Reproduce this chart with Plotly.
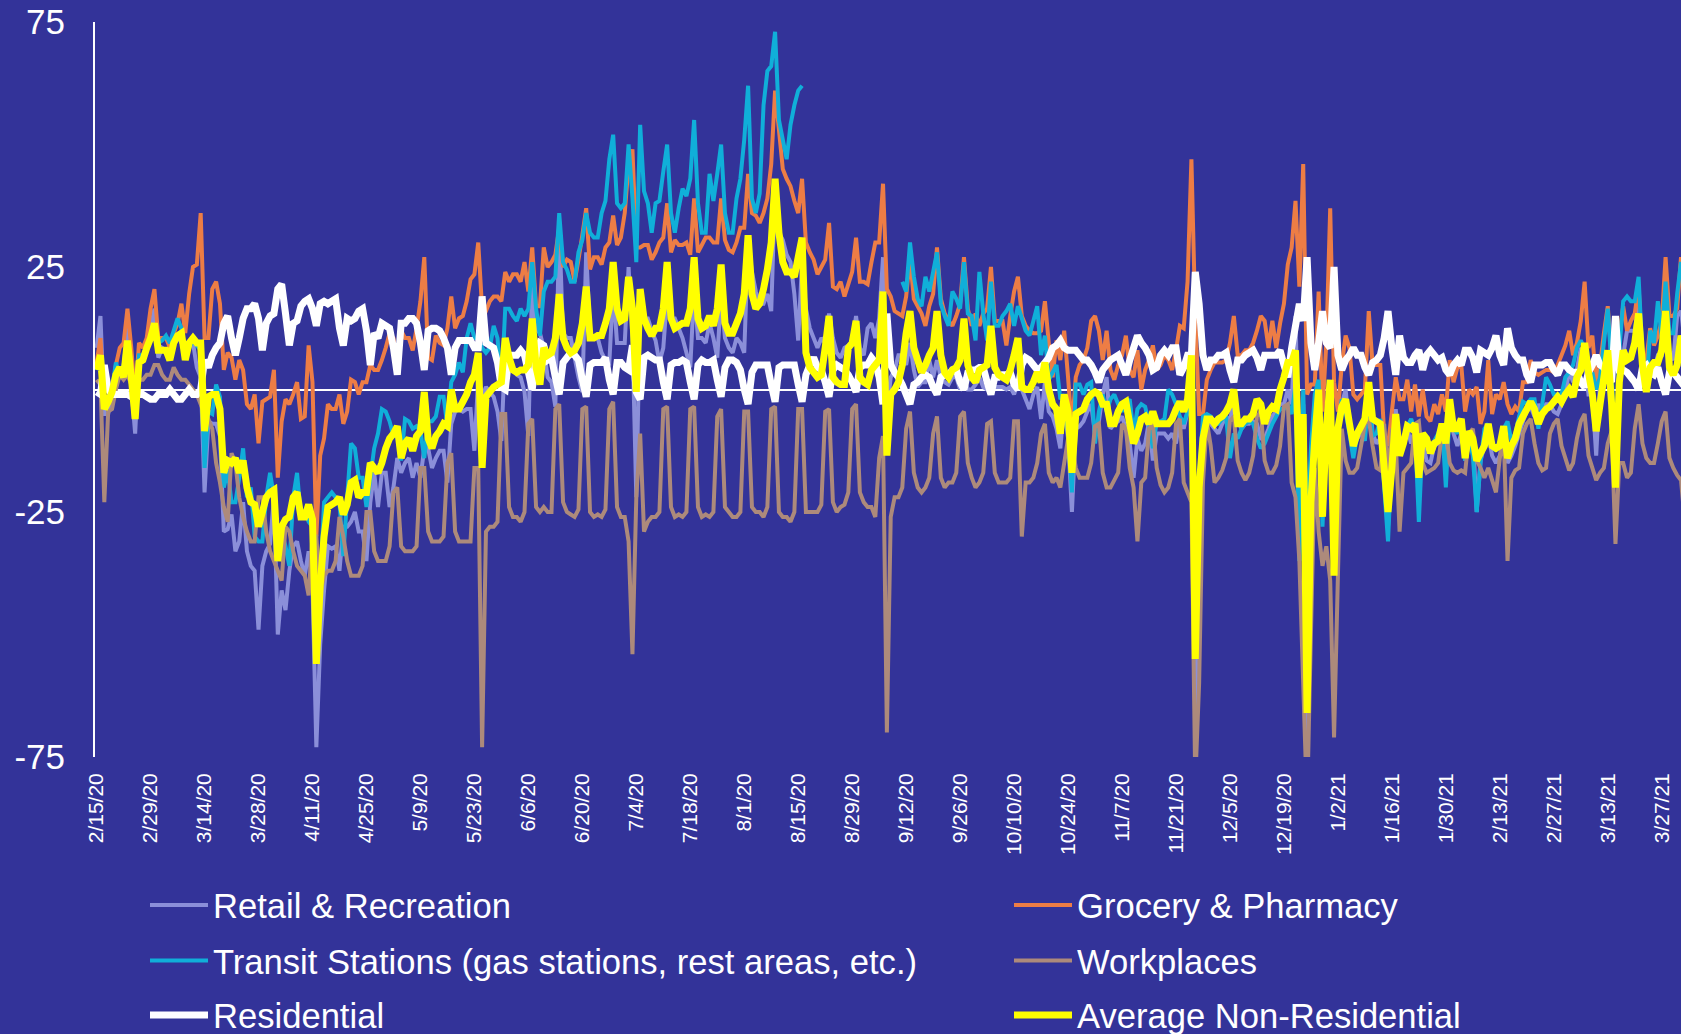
import pandas as pd
import plotly.graph_objects as go

start_date = "2020-02-15"
tick_labels = ["2/15/20","2/29/20","3/14/20","3/28/20","4/11/20","4/25/20","5/9/20","5/23/20","6/6/20","6/20/20",
               "7/4/20","7/18/20","8/1/20","8/15/20","8/29/20","9/12/20","9/26/20","10/10/20","10/24/20","11/7/20",
               "11/21/20","12/5/20","12/19/20","1/2/21","1/16/21","1/30/21","2/13/21","2/27/21","3/13/21","3/27/21"]
y_ticks = [-75, -25, 25, 75]

retail = [
8.5,15,-5,-5,-0.5,2.5,2.5, 4.5,12.5,0.5,-9,6.5,6,8, 12.5,16.5,6.5,8.5,8,6.5,9.5, 11,9.5,8.5,9,9.5,4.5,2.5,
-21,-6.5,-7,-7,-9.5,-29,-28.5, -25.5,-33,-31,-23,-33,-36,-37, -49,-36,-33,-31.5,-22,-50,-41, -45,-37,-32,-31,-35,-38,-33,
-40,-73,-52,-41,-32,-32.5,-32, -37,-28,-28,-27,-25,-29,-29, -35,-23,-17,-24,-17,-17,-24, -20,-14,-17,-15,-14,-18,-15,
-18,-12,-12,-16,-14,-12.5,-12.5, -19,-7,-4.5,-4,-4.5,-4,-4, -12.5,2.5,-1.5,0.5,-0.5,-1.5,-4.5, -10.5,8.5,7.5,4,3,2.5,-0.5,
-9.5,23,12.5,11.5,8.5,2.5,1.5, -3.5,33,11.5,10.5,10.5,6.5,2.5, -0.5,28,11.5,10.5,10.5,7.5,6, 5.5,20.5,9.5,9.5,9.5,25,10.5,
-22,16.5,14.5,14.5,12,10,5.5, 8.5,19,14.5,14.5,12.5,10.5,7.5, 4.5,20.5,10.5,10.5,9.5,13.5,10.5, 6.5,19,10.5,8.5,7.5,10.5,9.5,
7.5,30,24,20,17.5,17.5,19.5, 16,41,32,30.5,27.5,26,19.5, 10,26,16.5,12.5,10.5,8.5,10.5, 9.5,15.5,10.5,7.5,6.5,8.5,9,
9.5,15,8.5,7,12.5,13.5,10.5, 14.5,27,-4.5,2.5,4,7,7, 5,9.5,4,0.5,1.5,1.5,6, 2.5,6,2.5,1.5,1,2.5,2.5,
0,2.5,0,0,1,2.5,0.5, 0,1.5,0.5,0.5,0.5,0,0.5, -1,1.5,0,-2,-4,-1,0.5, -6,1.5,-4.5,-5.5,-8,-12,-3,
-10,-25,-8,-7.5,-6.5,-4.5,-3, -9,-6.5,-1,2.5,-8,-7,-6.5, -5.5,-8,-11,-18,-10,-12.5,-11, -6.5,-14.5,-9,-9,-9,-10,-9,
-11,-5.5,-8,-4.5,8,-70,-29, -10,-5.5,-7,-8,-9,-7,-5.5, -6.5,-2,-6.5,-8,-7,-7,-6.5, -7,-10,-10,-8,-5.5,-4.5,-3,
-3,0,-3,15,-19,-3,-78, -20,-12,1,-25,-9,-1,-37, -8,-3,0,-8,-11.5,-10,-9, -6.5,1.5,-9,-11,-10,-19,-28,
-14.5,-4,-12,-11.5,-8,-11,-8, -19,-11,-14.5,-15,-11.5,-11,-9, -12.5,-3,-9,-11.5,-9,-14.5,-11, -9,-25,-14.5,-11.5,-9,-13.5,-15,
-13.5,-10,-15,-13.5,-11.5,-9,-6.5, -4.5,-3.5,-5.5,-3,-4.5,-3,-3, -4.5,-5,-3,-1,4,1.5,4, 8.5,7,-1,-1,-13.5,1.5,6,
6,-1,-19.5,1.5,7,12,12, 12,17.5,4,0,2.5,4,7, 7,15,7,6,15,16,9.5]

grocery = [
5.5,10.5,-2,-1.5,-1,5,8.5, 9.5,16.5,8.5,-1.5,9.5,8.5,10.5, 16.5,20.5,10.5,10.5,10.5,8.5,11.5, 13.5,17.5,11.5,19.5,25,25.5,36,
10.5,10.5,20.5,22,17.5,4,7.5, 6.5,2,6,4,-3,-4,-1, -11,-2.5,-2,-1.5,4,-18,-6.5, -2,-3,-1,1.5,-6,-5.5,9,
1.5,-30,-13.5,-10,-3,-4,-4, -1,-7,-4.5,2,1.5,-1,1.5, 1.5,5,4,4,6,8.5,11.5, 10.5,5,12,10.5,10.5,8,12.5,
18,27,6.5,6,11,9.5,9, 12.5,19,12.5,14.5,15,18,22.5, 23.5,30,16.5,16,18,19,19, 18,24,22,23.5,23.5,22,26,
20,29,17,17,29,25,26, 27.5,33,25,26.5,26,22,26.5, 31.5,37,24.5,27,27,25.5,29, 30,35.5,29.5,31,36,46,49,
29,29,29.5,29.5,26.5,28,30, 31,38,28,30.5,29.5,29.5,30, 27.5,39,28,29.5,31,31,30, 30,39,30.5,28.5,28,30,33,
33,44,36,35.5,34,36,39, 46,61,53,45,43,41.5,38.5, 36,43,30,28,26.5,23.5,25, 26.5,34,21,20.5,22,19,21.5,
24,31,22,22,21.5,26,30, 30,42,20.5,19,16,15.5,15, 19,27,18.5,17,15.5,13,17, 19.5,29,18.5,15.5,14,13,15,
17.5,27,16.5,13,15.5,13,15.5, 16.5,25,14,14,14,9,15, 20,23,15,13,12,11.5,11.5, 12,18,9.5,2.5,10,6,12,
2.5,-8,2.5,5,6,8.5,14, 15,12,6,12,4,2,5, 7,11,4,2.5,8,0,4, 6,9,4,5,7,6,4,
8,13,12.5,22,47,15,-5, -5,2,4,5.5,5.5,5.5,6, 9.5,15,7,7,8,8,9.5, 12,15,14,8.5,14,8.5,13.5,
17.5,25.5,29,38.5,21,46,-1, 1,1,20,-4.5,9.5,37,1.5, -4.5,5,11,8.5,-1,-2,-1, 0,16,5,5,5,-9,-11.5,
-4.5,2.5,-2,-2,2,-4.5,1, -5.5,0,-5.5,-6.5,-3,-5,-1, -4.5,6,1.5,4.5,5,-4.5,0, -1,0.5,-7,-4.5,6,-5,-1,
-2,1.5,-3,-5,-3.5,-4.5,1.5, 1.5,6,3.5,3,3.5,4,4, 3.5,5,7,9,12,7,9.5, 14,22,8.5,11,1.5,5,11.5,
17,6,6,11.5,17,12,14, 15.5,21,7,6,12.5,9,11, 14,27,15,15,16.5,27,21]

transit = [
4,7,-3,-2,0,5.5,3, 5,9,4,-1,7,7,9, 11,12,9.5,10,11,9.5,12, 14.5,12.5,6.5,8.5,10,9,8,
-16,-4.5,-5,1,-1.5,-20,-16.5, -23,-23,-18,-12,-22,-20,-30, -31,-31,-22,-17,-22,-31,-29, -32,-36,-22,-17,-26,-25,-27,
-28,-56,-40,-23,-22,-21,-22, -23,-34,-22,-11,-12,-18,-18, -24,-18,-12,-9,-4,-4.5,-6.5, -9.5,-9.5,-14.5,-6,-6.5,-8,-7.5,
-8.5,-14,-6.5,-6.5,-5.5,-1.5,-1.5, -7.5,1.5,3,5.5,3.5,10.5,13.5, 10.5,10.5,8.5,7.5,8.5,13,10.5, 0.5,16.5,16.5,15,14,16.5,15,
16.5,26,16.5,11,20,22,22, 23,36,26,24.5,22,22,28, 30.5,36,32,31,31,36,38.5, 47,52,38,37,38,50,39,
26,54,40.5,38,32,38,38.5, 44.5,50,36,32,37,41,39.5, 43,55,38,32,32,44,38.5, 44,50,36,32,32,39,43,
51,62,39,36,40,58,65, 66,73,55,51,47,54,58, 61,62,None,None,None,None,None, None,None,None,None,None,None,None,
None,None,None,None,None,None,None, None,None,None,None,None,None,22, 20,30,23,18.5,17,23,20, 24,28,17.5,15,13,20,18.5,
16.5,26,15.5,15,10,24,15.5, 10,22,13,13,15,16,17.5, 13,17,14.5,12,11,14,17, 7,11,2,3.5,5,-2,-1,
-9,-21,1,1,-1,1,1.5, -11,-4.5,-1,-4.5,-2,-1,-3, -4.5,-3,-2,-9,-4,-3,-3.5, -7,-12,-6.5,-6.5,-6,0,-1,
-3,-5.5,-7,-4.5,1,-47,-18, -5.5,-5,-5.5,-7,-7,-6,-5.5, -14,-9,-10,-8,-7,-6.5,-7, -10,-12,-11,-9,-7,-5.5,-4,
-4,-3,-5,1,-35,0,-29, -12,-1,2,-28,-9,-1,-34, -8,-2,-4.5,-9,-14,-9.5,-8, -10.5,-1,-9.5,-9,-6,-20,-31,
-13.5,-8,-12,-11,-7.5,-6,-8.5, -27,-9.5,-10.5,-12.5,-10.5,-9,-7, -20,-4.5,-8,-9,-7,-14.5,-10, -13.5,-25,-15,-8,-7,-11.5,-12.5,
-10.5,-8,-6.5,-10.5,-9,-5.5,-2.5, -3,-2,-2,-8,-3,2.5,1, -1,-1,-1,2.5,3.5,5,8.5, 10,8.5,1,3.5,0,2.5,9.5,
16.5,4.5,-19,8,18,19,18, 18,23,7,0,12,9.5,18, 10.5,22,11.5,11.5,19.5,26,22]

workplaces = [
2,1,-23,-4.5,-4,0,3, 2,3,1,1,2,2,3, 3,5,5,3,2,2,4.5, 3,2,2,1,0,-1,-3,
-5,-6,-8,-15,-19,-24,-27, -13,-15,-22,-26,-29,-31,-31, -22,-22,-29,-33,-35,-37,-39, -28,-29,-33,-36,-37,-38,-42,
-30,-30,-42,-38,-37,-37,-35, -26,-30,-35,-38,-38,-38,-36, -25,-25,-33,-35,-35,-35,-32, -21,-20,-32,-33,-33,-33,-32,
-16,-16,-29,-31,-31,-31,-30, -15,-13,-29,-31,-31,-31,-31, -16,-16,-73,-29,-28,-28,-27, -5,-5,-24,-26,-26,-27,-25,
-7,-6,-24,-25,-24,-25,-25, -4,-3,-23,-25,-25.5,-26,-24.5, -4,-3.5,-25,-26,-25.5,-26,-24.5, -4,-2.5,-24,-26,-26,-31,-54,
-22,-9,-29,-27,-26,-26,-25, -4,-3.5,-24,-26,-25.5,-26,-25, -4,-3.5,-24,-26,-25.5,-26,-25, -5.5,-4,-24,-25,-26,-26,-25,
-4.5,-4.5,-24,-25,-25,-26,-24, -4,-3.5,-25,-26,-26,-27,-25, -4,-4,-25,-25,-25,-25,-23.5, -4.5,-4,-23,-25,-24,-23.5,-21,
-4,-3,-21,-23,-24,-24,-26, -14,-9.5,-70,-26,-22,-22,-20, -8,-4.5,-17,-20,-21,-20,-18, -9,-5.5,-18,-20,-19,-19,-17,
-5.5,-4.5,-15,-18,-20,-19,-17, -7,-6.5,-17,-19,-19,-19,-18, -6.5,-6.5,-30,-19,-19,-18,-15, -9,-7,-17,-19,-18,-20,-15,
-10,-11,-16,-18,-18,-18,-15, -7.5,-7,-17,-20,-20,-18.5,-17, -7,-8,-16,-20,-31,-19,-18, -8,-7,-16,-19.5,-21,-20,-17,
-7,-6,-19,-21,-23,-80,-60, -19,-6.5,-11.5,-19,-18,-16.5,-14, -6.5,-5.5,-14.5,-17,-18.5,-17,-13.5, -5.5,-4.5,-14.5,-17,-17,-15.5,-11.5,
-3.5,-3,-19,-22,-35,-60,-85, -50,-16,-29,-36,-32,-39,-71, -38,-8,-14.5,-17,-17,-16,-11.5, -7,-6,-11.5,-16,-16.5,-7,-17,
-8,-10.5,-29,-17,-16,-15,-7, -6.5,-15,-17,-16.5,-16,-15,-9, -8,-15,-16.5,-17,-16.5,-17,-9, -8,-14.5,-16,-18,-16,-18.5,-21,
-14,-9,-35,-18,-16.5,-16,-9, -7,-6,-11,-15,-16.5,-16,-9, -7,-6,-11.5,-14,-16.5,-15,-10, -6.5,-5,-13.5,-16,-18.5,-17,-16,
-11,-8.5,-31.5,-15,-15,-18,-17, -8,-3,-11,-14,-15,-15,-11, -6.5,-4.5,-14,-16,-17.5,-18.5,-27]

residential = [
-0.5,-1,5,0,-1,-1,-1, -1,-1,-1.5,-1,-1,-1,-1.5, -2,-2,-1,-1,-1,0,-1, -2,-2,-1,0,-1,-1,0,
6,4.5,7,8.5,9.5,13.5,15, 10.5,7,10.5,14.5,16.5,16.5,17.5, 14.5,8,13.5,15,15.5,20.5,21.5, 15.5,9,13.5,14,17,18,18.5,
16.5,13,17.5,18,17.5,18,18.5, 12.5,9,14.5,14,14.5,16,16.5, 12,5,11.5,10.5,13.5,13,12.5, 8.5,3,13.5,13.5,14.5,14.5,13.5,
9.5,4,12,12.5,12.5,12,10.5, 8.5,3,8.5,10,10,10,10, 8.5,8.5,19,9.5,9,8.5,5.5, 0.5,0,7,7,7,8,7,
3.5,0,6.5,9.5,9,6,6.5, 2.5,-1,5.5,6.5,7.5,7,6, 2,-1.5,5,5.5,5.5,5.5,6.5, 2,-1,5.5,5.5,4.5,4,9,
-0.5,-2,6.5,7,6.5,6,6, 1.5,-2,5,5.5,5.5,6,5.5, 1.5,-2,5,6,5.5,5.5,6, 2,-1.5,4.5,6,6,5.5,4,
0,-3,3.5,5,5,5,5, 1,-2.5,4.5,5,5,5,5, 1,-2.5,3,5,6.5,4.5,4, 1.5,-1.5,4,5,4.5,4,3,
1.5,-0.5,4.5,5,5,6.5,5.5, 2.5,-3,15.5,5,3.5,2.5,1, -1,-3,1,1.5,2.5,3,2.5, 0.5,-1,2.5,3,3,4,4,
1.5,0,3.5,4,4,4.5,4.5, 1.5,-1,2.5,2.5,3,3,3.5, 1,0,5,6.5,6,5,4, 4.5,5.5,6.5,8.5,9,10,8.5,
8,8,8,7,6,6,5, 3.5,1.5,4,5,6,6.5,7, 5,3,6,8.5,11,9.5,8.5, 7,4,4.5,7,8,7,8.5,
8.5,3,4.5,7,7,24,17.5, 7,4,6,6,7,7,7.5, 4,1.5,6,6,7,7.5,8, 6.5,4,7,7,7,7,8,
5,2.5,8.5,13,17.5,14,27, 9.5,4,9.5,16,9.5,8.5,25, 7,4,6,7,8.5,7,7, 4.5,3,5.5,6,7,10.5,16,
8.5,3,11,6.5,5.5,5.5,7, 8,4,7,8,7,6,6.5, 4,3,5,6,5,8,8, 6.5,3.5,8,7.5,7,8.5,11,
7,5,12.5,8.5,7,6,6, 3,1.5,5,5,5,5.5,5.5, 4,3,5,5,4,3.5,3.5, 1.5,0.5,3.5,5,7,5,4.5,
2.5,1.5,15,4,4,3.5,2.5, 1.5,0,4.5,5,3.5,3,4.5, 1.5,-1,3.5,3.5,2.5,1.5,2.5]

average = [
4,7,-4,-2.5,-0.5,3,4.5, 2.5,10,2.5,-6,5.5,6,8.5, 10.5,13.5,8,8,8,6,9.5, 11,11.5,6,9.5,10.5,9.5,9.5,
-8.5,-1.5,-1,-1,-4,-17,-14.5, -15,-14,-17,-14.5,-20,-23,-23.5, -28,-25,-22,-21,-20.5,-35,-28, -26.5,-26,-22,-21,-26,-26,-23.5,
-26.5,-56,-40,-30,-24,-23.5,-23, -22,-25.5,-23.5,-19,-18.5,-22,-21, -21,-15,-16,-17,-15,-12,-10, -9,-7.5,-14,-11,-10,-12.5,-9.5,
-8.5,-0.5,-10,-12,-9.5,-8.5,-7, -7.5,0,-4,-4,-2.5,-1,1.5, 3,7.5,-16,-1.5,-0.5,0.5,1, 1.5,10.5,6.5,4,3.5,4,4,
5,14.5,4.5,1,8.5,7,7.5, 10.5,19.5,10.5,8.5,7.5,8,9.5, 13.5,21,10.5,10.5,11,11,13.5, 16.5,26,16.5,14,14.5,23,16.5,
-0.5,20.5,14.5,12.5,11,12.5,12.5, 16.5,26,14.5,12.5,13,13.5,13.5, 16.5,27,14.5,12.5,13,15,13, 16.5,25.5,13.5,11.5,11.5,13.5,15.5,
19.5,31.5,19.5,16.5,17.5,20.5,24.5, 30,43,32,26,24,24,23, 27,31,7.5,4.5,3.5,2.5,3, 8.5,15,2.5,1.5,1,1,8.5,
9.5,14,2.5,1.5,1,4,5, 6,20,-13.5,-1,0,1.5,5, 11.5,16,8.5,6,3.5,5,7, 8.5,16,7,3.5,2.5,4,4.5,
6,14.5,5,2.5,1.5,4,4.5, 5,13,4.5,3,2.5,2,4, 7,10.5,0.5,0,0,1.5,3.5, 1.5,5.5,0,-3,-4,-9,-1,
-4.5,-17,-5,-4.5,-4,-2,-1, -0.5,-1,-3,-3,-7,-7,-4.5, -3,-2.5,-7,-11,-9,-6,-5.5, -7,-4.5,-7,-7,-7,-7,-6,
-4,-2.5,-4.5,-2,7,-55,-20, -10,-6,-6,-7,-6,-5.5,-4.5, -3,0,-7,-7,-6,-6,-5, -2,-3,-7,-4.5,-3.5,-4,0,
2.5,5.5,5.5,8,-20,-5,-66, -23,-10,0,-26,-8,2,-38, -8,-3.5,-2,-7,-11.5,-9,-7.5, -6,1.5,-6,-6.5,-7,-16,-25,
-16,-5,-13.5,-11,-7.5,-8,-7, -18,-9,-10,-13,-11,-10.5,-7, -11,-2,-8,-8,-6,-14,-8.5, -10,-14.5,-13,-11.5,-7,-11.5,-12,
-11.5,-7.5,-14,-11.5,-10,-7,-5.5, -4,-2.5,-4,-7,-5,-4,-3.5, -2.5,-1.5,-2.5,-1,0,-1.5,2.5, 4,9.5,3.5,-1,-8.5,-3,2.5,
8,-3,-20,1.5,8,6,6.5, 9.5,15.5,5,-0.5,4.5,5.5,5.5, 8,16,4.5,3,5,11,6]

dates = pd.date_range(start_date, periods=len(average), freq="D").strftime("%Y-%m-%d").tolist()
tick_dates = pd.to_datetime(tick_labels, format="%m/%d/%y").strftime("%Y-%m-%d").tolist()

BG = "#333399"
W, H = 1681, 1034
L, T, B = 95, 21.5, 757
LEG_FONT = dict(family="Liberation Sans", size=34.6, color="white")

series = [
    ("Retail & Recreation", retail, "#8B8FD9", 4, "legend", 145, 905),
    ("Grocery & Pharmacy", grocery, "#ED7D45", 4, "legend2", 1009, 905),
    ("Transit Stations (gas stations, rest areas, etc.)", transit, "#10AFD9", 4, "legend3", 145, 960.5),
    ("Workplaces", workplaces, "#AD8A7B", 4, "legend4", 1009, 960.5),
    ("Residential", residential, "#FFFFFF", 7, "legend5", 145, 1015),
    ("Average Non-Residential", average, "#FFFF00", 7, "legend6", 1009, 1015),
]

fig = go.Figure()
layout_legends = {}
for name, vals, color, width, leg, lx, ly in series:
    fig.add_trace(go.Scatter(x=dates, y=vals, mode="lines", name=name, legend=leg, connectgaps=False,
                             line=dict(color=color, width=width, shape="linear", simplify=False),
                             hoverinfo="skip"))
    layout_legends[leg] = dict(x=lx / W, y=1 - ly / H, xref="container", yref="container",
                               xanchor="left", yanchor="middle", font=LEG_FONT, itemwidth=58,
                               bgcolor="rgba(0,0,0,0)", borderwidth=0, itemclick=False, itemdoubleclick=False)

fig.update_layout(
    width=W, height=H, autosize=False,
    margin=dict(l=L, r=0, t=T, b=H - B, pad=0, autoexpand=False),
    paper_bgcolor=BG, plot_bgcolor=BG, showlegend=True,
    font=dict(family="Liberation Sans", color="white"),
    **layout_legends,
)
range_start = (pd.Timestamp(start_date) - pd.Timedelta(hours=10)).strftime("%Y-%m-%d %H:%M")
range_end = (pd.Timestamp(start_date) + pd.Timedelta(hours=int(411.0 * 24))).strftime("%Y-%m-%d %H:%M")
fig.update_xaxes(
    type="date",
    range=[range_start, range_end],
    tickmode="array", tickvals=tick_dates, ticktext=tick_labels, tickangle=-90,
    tickfont=dict(size=21, color="white", family="Liberation Sans"),
    showgrid=False, zeroline=False, showline=False, ticks="", ticklabelstandoff=11,
)
fig.update_yaxes(
    range=[-75, 75], tickmode="array", tickvals=y_ticks, ticktext=[str(v) for v in y_ticks],
    tickfont=dict(size=35, color="white", family="Liberation Sans"),
    showgrid=False, zeroline=True, zerolinecolor="white", zerolinewidth=2,
    showline=True, linecolor="white", linewidth=2, ticks="", ticklabelstandoff=21,
)
fig.write_html("out.html", config={"displayModeBar": False},
               post_script="document.body.style.margin='0';document.body.style.overflow='hidden';document.documentElement.style.background='#333399';")
